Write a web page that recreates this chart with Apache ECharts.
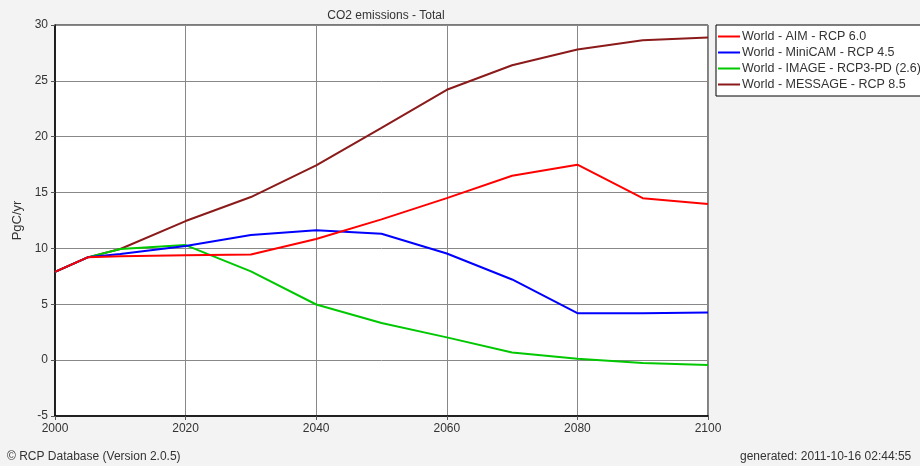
<!DOCTYPE html>
<html>
<head>
<meta charset="utf-8">
<script src="https://cdn.jsdelivr.net/npm/echarts@6/dist/echarts.min.js"></script>
<style>
html,body{margin:0;padding:0;background:#f3f3f3;}
#chart{width:920px;height:466px;}
</style>
</head>
<body>
<div id="chart"></div>
<script>
var years = [2000, 2005, 2010, 2020, 2030, 2040, 2050, 2060, 2070, 2080, 2090, 2100];
var seriesNames = ['World - AIM - RCP 6.0', 'World - MiniCAM - RCP 4.5', 'World - IMAGE - RCP3-PD (2.6)', 'World - MESSAGE - RCP 8.5'];
var aim     = [7.9, 9.2, 9.3, 9.38, 9.45, 10.85, 12.6, 14.5, 16.5, 17.5, 14.5, 13.97];
var minicam = [7.9, 9.2, 9.5, 10.22, 11.2, 11.62, 11.32, 9.55, 7.22, 4.2, 4.2, 4.27];
var image   = [7.9, 9.2, 9.95, 10.3, 7.95, 4.98, 3.32, 2.04, 0.69, 0.12, -0.26, -0.44];
var message = [7.9, 9.2, 9.95, 12.45, 14.6, 17.43, 20.8, 24.2, 26.4, 27.8, 28.63, 28.87];
var colors = ['#ff0000', '#0000ff', '#00c800', '#8b1a1a'];
var titleText = 'CO2 emissions - Total';
var yAxisName = 'PgC/yr';
var footLeft = '\u00A9 RCP Database (Version 2.0.5)';
var footRight = 'generated: 2011-10-16 02:44:55';

function pairs(v){ return years.map(function(y,i){ return [y, v[i]]; }); }
var values = [aim, minicam, image, message];

var chart = echarts.init(document.getElementById('chart'), null, {renderer:'canvas'});
var font = 'Liberation Sans, Arial, sans-serif';
var series = [];
for (var i = values.length - 1; i >= 0; i--) {
  series.push({
    name: seriesNames[i], type: 'line', data: pairs(values[i]),
    showSymbol: false, symbol: 'none', animation: false,
    lineStyle: {color: colors[i], width: 2},
    itemStyle: {color: colors[i]},
    z: 10 - i
  });
}
chart.setOption({
  backgroundColor: '#f3f3f3',
  animation: false,
  title: {
    text: titleText, left: 381, top: 5, textAlign: 'center',
    textStyle: {fontSize: 12, fontWeight: 'normal', color: '#333', fontFamily: font}
  },
  legend: {
    orient: 'vertical', left: 716, top: 25,
    data: seriesNames,
    icon: 'rect', itemWidth: 22, itemHeight: 2, itemGap: 3,
    backgroundColor: '#fff', borderColor: '#000', borderWidth: 1,
    padding: [5, 20, 5, 2],
    textStyle: {fontSize: 12.5, color: '#333', fontFamily: font, padding: [0,0,0,-3]}
  },
  grid: {
    left: 55, right: 212, top: 25, bottom: 50,
    show: true, backgroundColor: '#fff', borderColor: '#000', borderWidth: 1
  },
  xAxis: {
    type: 'value', min: 2000, max: 2100, interval: 20,
    axisLine: {show: true, onZero: false, lineStyle: {color: '#000', width: 1.5}},
    axisTick: {show: true, length: 4, lineStyle: {color: '#555'}},
    axisLabel: {fontSize: 12, color: '#333', fontFamily: font, margin: 7, formatter: function(v){ return String(v); }},
    splitLine: {show: true, lineStyle: {color: '#888', width: 1}}
  },
  yAxis: {
    type: 'value', min: -5, max: 30, interval: 5,
    name: yAxisName, nameLocation: 'middle', nameGap: 29,
    nameTextStyle: {fontSize: 13, color: '#333', fontFamily: font},
    axisLine: {show: true, lineStyle: {color: '#000', width: 1.5}},
    axisTick: {show: true, length: 4, lineStyle: {color: '#555'}},
    axisLabel: {fontSize: 12, color: '#333', fontFamily: font, margin: 7},
    splitLine: {show: true, lineStyle: {color: '#888', width: 1}}
  },
  graphic: [
    {type: 'text', left: 7, top: 451, style: {text: footLeft, fontSize: 12, fill: '#333', fontFamily: font}},
    {type: 'text', left: 740, top: 451, style: {text: footRight, fontSize: 12, fill: '#333', fontFamily: font}}
  ],
  series: series
});
</script>
</body>
</html>
